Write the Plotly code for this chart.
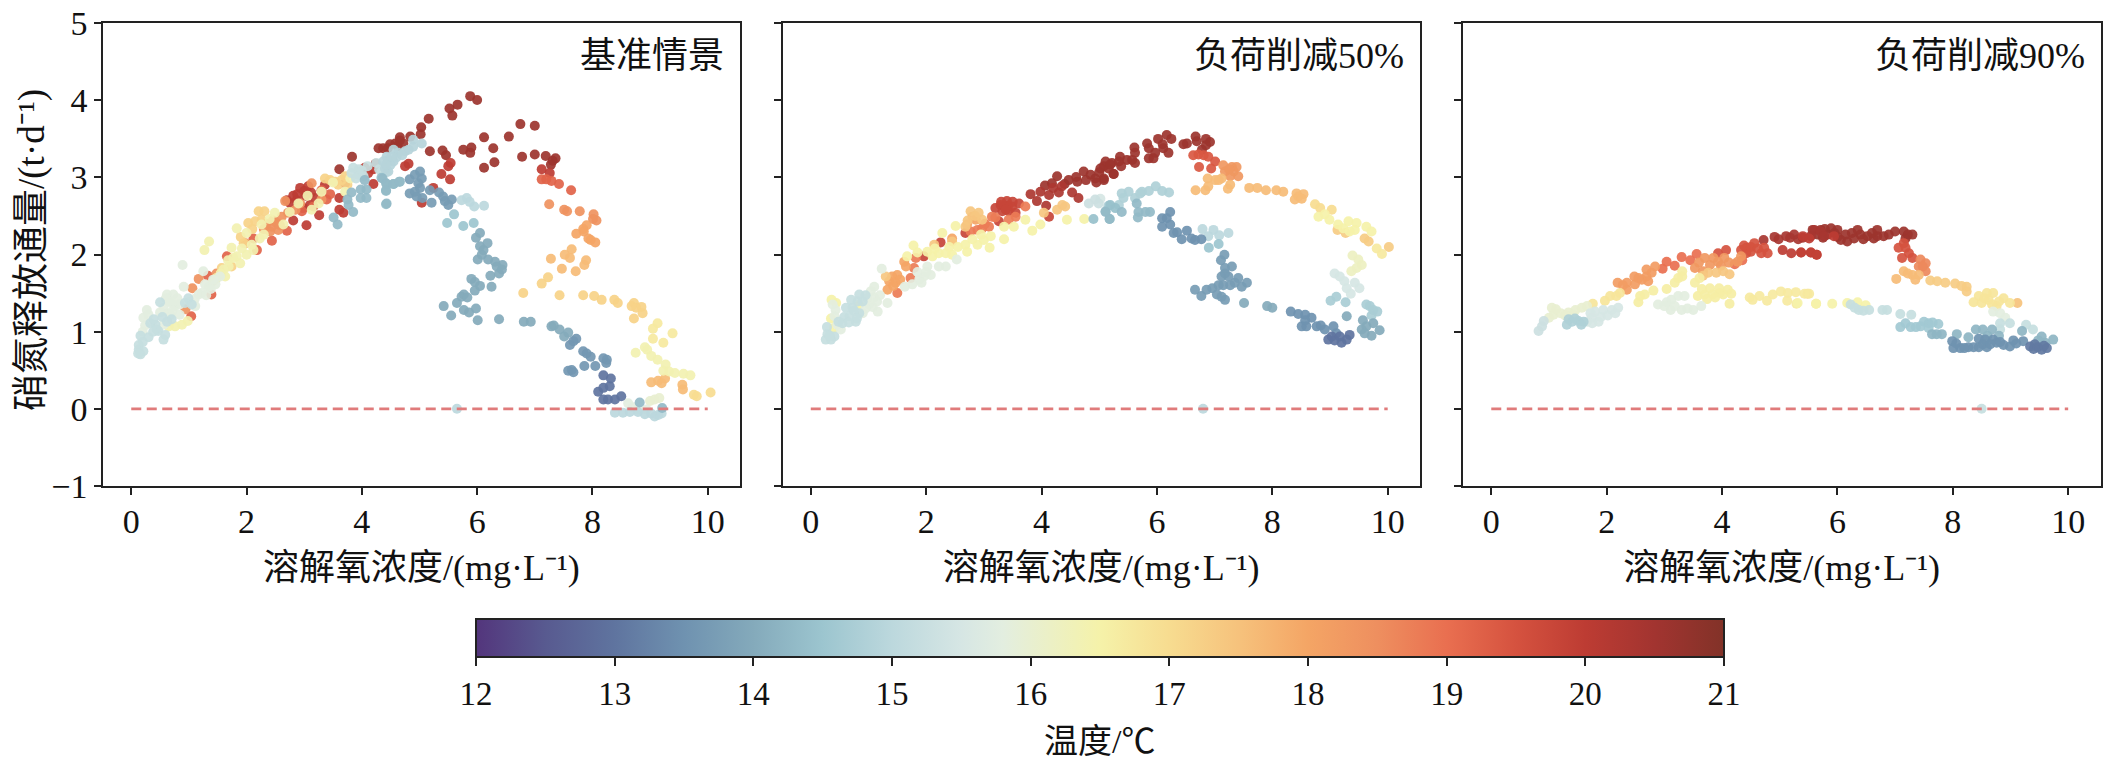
import plotly.graph_objects as go

W, H = 2106, 767
FONT = "Liberation Serif, Noto Sans CJK SC, serif"

# ---------- panel titles / axis text ----------
panel_titles = ["基准情景", "负荷削减50%", "负荷削减90%"]
x_title = "溶解氧浓度/(mg·L⁻¹)"
y_title = "硝氮释放通量/(t·d⁻¹)"
cbar_title = "温度/℃"
x_ticks = [0, 2, 4, 6, 8, 10]
y_ticks = [-1, 0, 1, 2, 3, 4, 5]
cbar_ticks = list(range(12, 22))
ref_x = [0, 10]
ref_y = [0, 0]

# values below were read with a small baseline error; this converts them to axis values
READ_GAIN, READ_OFFSET = 1.008, -0.04

# ---------- panel 1: (dissolved oxygen, flux) grouped by temperature ----------
p1_206 = [(5.88,4.06),(6.0,4.01),(5.66,3.95),(5.52,3.9),(5.57,3.81),(5.16,3.77),(5.03,3.66),(5.02,3.57),(4.84,3.54),(4.66,3.53),(4.58,3.45),(4.49,3.44),(4.37,3.39),(4.72,3.45),(6.12,3.53),(6.55,3.54),(6.75,3.7),(7.0,3.68),(6.28,3.39),(5.9,3.4),(5.88,3.33),(5.76,3.37),(5.4,3.36),(5.46,3.3),(5.18,3.35),(6.78,3.28),(7.0,3.31),(7.19,3.29),(7.36,3.26),(7.31,3.23),(7.28,3.18),(6.3,3.21),(6.12,3.14),(3.83,3.28),(3.61,3.12),(4.29,3.39),(4.45,3.39),(4.62,3.42),(4.66,3.49),(4.24,3.19)]
p1_200 = [(5.54,3.2),(5.5,3.16),(5.38,3.06),(5.53,2.99),(4.81,3.19),(4.75,3.16),(7.12,3.12),(7.26,3.07),(5.24,2.88),(5.04,2.69),(4.2,2.93),(3.61,2.75),(3.61,2.6),(3.68,2.56),(3.26,2.53),(3.04,2.4),(2.81,2.78),(2.93,2.88),(3.07,2.9),(3.19,2.75),(2.76,2.68),(2.81,2.46),(3.36,2.92),(3.71,2.94),(4.11,3.07),(3.0,2.84),(2.87,2.72),(3.1,2.66),(2.98,2.62),(3.02,2.78),(2.88,2.8),(3.12,2.82),(2.7,2.72),(4.05,3.14),(4.2,3.12)]
p1_192 = [(7.12,2.99),(7.2,2.99),(7.29,2.97),(7.42,2.93),(7.63,2.85),(2.7,2.33),(2.44,2.2),(2.18,2.08),(3.16,2.64),(2.96,2.58),(3.39,2.73),(2.12,2.23),(1.66,2.0),(1.39,1.51),(1.33,1.75),(1.04,1.23),(3.3,2.85),(3.45,2.8)]
p1_184 = [(7.25,2.67),(7.51,2.6),(7.56,2.58),(7.78,2.58),(8.02,2.54),(8.07,2.46),(8.01,2.48),(1.17,1.71),(0.94,1.32),(2.44,2.38),(2.61,2.51),(2.52,2.43),(2.41,2.32),(2.67,2.71),(2.55,2.34),(2.93,2.68),(3.3,2.73),(3.13,2.94),(1.98,2.17),(1.48,1.78),(1.06,1.59),(2.3,2.35),(2.35,2.42),(2.46,2.46),(2.58,2.4),(2.72,2.56),(2.85,2.6)]
p1_180 = [(7.9,2.4),(7.84,2.35),(7.72,2.29),(7.85,2.32),(7.93,2.23),(7.97,2.21),(8.05,2.18)]
p1_176 = [(7.64,2.09),(7.52,2.02),(7.61,1.98),(7.28,1.97),(7.89,1.95),(7.86,1.89),(7.47,1.84),(7.71,1.81),(9.02,0.38),(9.14,0.4),(9.2,0.37),(9.26,0.43),(9.56,0.35),(9.57,0.29)]
p1_172 = [(7.23,1.73),(7.12,1.65),(6.8,1.53),(7.43,1.5),(7.84,1.5),(8.03,1.49),(8.16,1.44),(8.38,1.44),(8.44,1.4),(8.68,1.36),(8.72,1.4),(8.76,1.34),(8.85,1.35),(8.87,1.27),(8.72,1.2),(2.21,2.58),(2.31,2.58),(2.03,2.43),(2.26,2.47),(3.54,2.96),(3.59,2.92),(3.71,3.03),(1.95,2.17),(1.57,1.85),(3.36,3.0),(1.74,1.87),(2.1,2.35),(2.15,2.45),(1.9,2.25),(3.45,2.98),(3.65,2.98),(3.75,2.92)]
p1_170 = [(9.76,0.22),(9.81,0.2),(10.05,0.25)]
p1_167 = [(9.13,1.14),(9.05,1.07),(9.39,1.01),(9.05,0.94),(9.23,0.89)]
p1_164 = [(8.75,0.76),(8.91,0.83),(8.95,0.8),(9.02,0.72),(9.13,0.67),(9.27,0.61),(9.23,0.53),(9.33,0.52),(9.43,0.5),(9.58,0.49),(9.7,0.47),(1.83,2.36),(1.35,2.19),(1.27,2.08),(2.49,2.56),(2.75,2.57),(2.9,2.68),(3.06,2.78),(3.13,2.6),(3.25,2.68),(3.3,2.83),(2.64,2.41),(2.26,2.41),(2.23,2.23),(2.09,2.15),(2.0,2.02),(2.0,2.3),(1.74,2.11),(1.83,2.0),(1.89,1.91),(1.77,1.98),(1.69,1.87),(1.6,1.83),(1.63,1.74),(3.71,2.83),(0.88,1.12),(0.76,1.1),(3.5,2.95),(3.8,3.0),(2.12,2.08),(2.3,2.28),(1.92,2.1),(1.55,1.78),(1.48,1.72),(1.42,1.68),(0.98,1.17),(0.65,1.1),(1.68,1.95),(2.4,2.48)]
p1_160 = [(9.0,0.14),(9.08,0.16),(9.16,0.18)]
p1_158 = [(8.62,0.11),(8.7,0.06),(8.79,0.03),(8.94,0.03),(0.89,1.89),(1.25,1.81),(0.91,1.61),(1.46,1.64),(1.34,1.61),(1.54,1.74),(1.22,1.53),(1.28,1.64),(1.17,1.51),(0.62,1.51),(0.73,1.51),(0.65,1.42),(0.76,1.36),(0.56,1.34),(0.65,1.27),(0.27,1.31),(0.21,1.21),(0.24,1.11),(0.56,1.12),(0.68,1.25),(1.11,1.36),(0.8,1.46),(0.84,1.38),(0.6,1.46),(0.7,1.4),(0.5,1.28),(0.72,1.3),(0.84,1.25),(1.02,1.42),(1.38,1.58),(1.1,1.45),(0.3,1.25),(0.2,1.03),(1.42,1.7),(1.3,1.5)]
p1_152 = [(0.99,1.46),(0.93,1.4),(0.5,1.41),(0.7,1.19),(0.33,1.14),(0.42,1.12),(0.39,1.19),(0.47,1.04),(0.59,0.99),(0.56,0.93),(0.16,0.98),(0.3,0.96),(0.13,0.86),(0.13,0.8),(0.21,0.78),(0.16,0.74),(0.12,0.75),(3.94,3.05),(3.82,3.07),(4.03,3.03),(3.85,3.14),(3.95,3.12),(4.1,3.16),(4.25,3.2),(4.3,3.12),(4.34,3.09),(4.43,3.08),(0.44,1.06),(0.38,1.03),(0.62,1.16),(0.54,1.22),(0.2,0.9),(1.05,1.38),(3.9,3.0),(4.0,3.1)]
p1_150 = [(8.39,-0.01),(8.53,-0.01),(8.65,0.0),(8.79,0.0),(8.91,-0.03),(9.08,-0.06),(9.2,-0.02),(9.14,-0.04),(9.02,-0.02),(6.12,2.65),(5.95,2.64),(5.87,2.7),(5.82,2.75),(5.73,2.72),(5.65,0.04)]
p1_149 = [(4.46,3.24),(4.55,3.22),(4.63,3.33),(4.75,3.35),(4.89,3.5),(5.04,3.45),(4.89,3.41),(4.81,3.37),(4.55,3.37),(4.43,3.28),(4.37,3.22),(4.46,3.09),(4.4,3.13),(4.5,3.18),(4.6,3.27),(4.7,3.3),(4.42,3.18),(4.52,3.28)]
p1_145 = [(5.94,2.43),(5.76,2.39),(5.48,2.43),(5.6,2.54)]
p1_144 = [(4.65,2.96),(4.55,2.93),(4.42,2.84),(4.42,2.94),(4.34,3.01),(4.42,2.67)]
p1_143 = [(3.82,2.82),(3.98,2.86),(4.08,2.86),(3.98,2.75),(4.08,2.75),(3.75,2.73),(3.77,2.66),(3.85,2.57),(3.51,2.5),(3.58,2.41),(4.05,2.98),(4.43,2.68),(4.36,3.0),(4.43,2.93),(4.42,2.85),(4.55,2.93),(4.66,2.96),(8.82,0.12),(9.21,0.05)]
p1_140 = [(7.29,1.1),(7.33,1.11),(7.43,1.06),(7.51,0.97),(7.58,1.02),(6.81,1.16),(6.93,1.16),(6.38,1.19),(6.01,1.18),(5.55,1.24),(5.42,1.36),(5.65,1.4),(5.73,1.48),(5.77,1.51),(5.83,1.47),(5.77,1.31),(5.86,1.28),(5.98,1.33),(5.96,1.56),(6.25,1.61),(6.05,1.62),(5.9,1.71),(5.96,1.67),(6.23,1.75),(6.38,1.78),(6.43,1.83),(6.44,1.89),(6.34,1.87),(6.31,1.93),(6.19,1.96),(6.01,1.96),(6.08,2.02),(6.11,2.08),(6.05,2.13),(6.18,2.17),(5.98,2.24),(6.05,2.3)]
p1_137 = [(5.56,2.73),(5.5,2.66),(5.44,2.71),(5.41,2.77),(5.34,2.82),(5.18,2.85),(5.21,2.69),(5.05,2.75),(4.95,2.77),(4.83,2.81),(4.92,2.83),(5.01,2.88),(4.98,2.94),(5.04,3.0),(4.83,2.99),(4.92,3.05),(5.01,3.09)]
p1_136 = [(7.64,0.54),(7.58,0.53),(7.67,0.51),(7.86,0.59),(8.05,0.59),(8.19,0.69),(8.24,0.63),(8.25,0.67),(7.84,0.78),(7.9,0.75),(7.97,0.71),(7.61,0.86),(7.67,0.91),(7.72,0.94)]
p1_130 = [(8.19,0.16),(8.27,0.16),(8.39,0.16),(8.5,0.2),(8.1,0.26),(8.19,0.31),(8.3,0.33),(8.32,0.43),(8.19,0.47)]
p1_bands = [(20.6,p1_206),(20.0,p1_200),(19.2,p1_192),(18.4,p1_184),(18.0,p1_180),(17.6,p1_176),(17.2,p1_172),(17.0,p1_170),(16.7,p1_167),(16.4,p1_164),(16.0,p1_160),(15.8,p1_158),(15.2,p1_152),(15.0,p1_150),(14.9,p1_149),(14.5,p1_145),(14.4,p1_144),(14.3,p1_143),(14.0,p1_140),(13.7,p1_137),(13.6,p1_136),(13.0,p1_130)]

# ---------- panel 2 ----------
p2_206 = [(6.17,3.56),(6.02,3.51),(6.25,3.51),(5.83,3.45),(5.86,3.39),(5.61,3.4),(6.1,3.44),(6.11,3.39),(6.2,3.33),(5.97,3.33),(5.86,3.26),(5.94,3.26),(6.46,3.44),(6.52,3.45),(6.67,3.54),(6.69,3.48),(6.85,3.51),(6.92,3.47),(6.85,3.43),(6.78,3.37),(5.62,3.33),(5.48,3.24),(5.36,3.28),(5.34,3.22),(5.22,3.2),(5.11,3.22),(5.08,3.16),(5.02,3.13),(5.16,3.13),(5.38,3.16),(5.25,3.06),(5.62,3.2),(5.08,3.0),(5.57,3.24),(5.19,3.18),(5.25,3.06),(5.08,2.98),(4.93,3.0),(4.73,3.09),(4.62,2.96),(4.47,2.98),(4.27,3.03),(4.18,2.94),(4.06,2.91),(4.85,3.05),(5.0,3.08),(4.6,3.02),(4.4,2.93),(4.95,2.95),(4.77,2.98)]
p2_203 = [(4.64,2.75),(4.53,2.82),(4.3,2.82),(4.13,2.79),(3.98,2.83),(3.81,2.8),(3.92,2.71),(4.08,2.65),(4.2,2.88),(4.35,2.9)]
p2_198 = [(3.4,2.71),(3.29,2.66),(3.49,2.64),(3.32,2.58),(3.43,2.58),(3.55,2.56),(3.2,2.62),(3.61,2.68),(4.13,2.51),(3.26,2.45),(2.25,2.18),(1.96,2.0),(2.68,2.3),(3.35,2.65),(3.42,2.65),(3.3,2.7),(3.5,2.7),(3.38,2.6)]
p2_194 = [(6.63,3.3),(6.72,3.31),(6.81,3.3),(6.89,3.28),(6.73,3.15),(6.94,3.13),(7.01,3.22)]
p2_188 = [(3.72,2.64),(3.55,2.51),(3.43,2.47),(3.14,2.51),(3.09,2.38),(2.97,2.36),(2.89,2.34),(2.77,2.32),(1.82,1.98),(1.79,1.85),(1.5,1.53),(1.73,1.72),(3.02,2.42),(3.2,2.5)]
p2_183 = [(7.15,3.17),(7.3,3.15),(7.38,3.15),(7.18,3.09),(7.33,3.09),(7.41,3.03),(7.27,3.03),(7.25,3.12)]
p2_180 = [(1.65,1.87),(1.62,1.93),(1.5,1.76),(1.41,1.74),(1.36,1.68),(1.47,1.66),(1.33,1.57),(2.45,2.23),(2.86,2.47),(2.71,2.41),(2.8,2.51),(1.55,1.7),(1.43,1.62)]
p2_176 = [(7.12,3.0),(7.01,2.98),(6.88,3.0),(7.27,2.92),(7.23,2.87),(6.89,2.9),(6.84,2.85),(6.67,2.85),(7.07,2.98),(7.6,2.88),(7.74,2.88),(7.89,2.85),(8.07,2.85),(8.19,2.83),(8.42,2.81),(8.54,2.8),(8.45,2.77),(8.39,2.73),(8.51,2.74)]
p2_174 = [(2.77,2.58),(2.91,2.56),(2.97,2.47),(2.68,2.38),(2.45,2.19),(1.3,1.74),(4.36,2.66),(4.27,2.6),(4.04,2.56),(4.41,2.64),(2.14,2.15),(2.72,2.46),(2.85,2.52)]
p2_173 = [(9.13,2.34),(9.27,2.3),(9.6,2.23),(9.67,2.19),(10.02,2.12)]
p2_170 = [(8.74,2.67),(8.83,2.62),(9.03,2.6)]
p2_167 = [(9.81,2.1),(9.9,2.03)]
p2_165 = [(8.8,2.51),(8.91,2.54),(8.99,2.47),(9.14,2.41),(9.23,2.36),(9.32,2.45),(9.46,2.43),(9.63,2.38),(9.72,2.32),(9.43,2.34),(9.34,2.32),(2.51,2.39),(2.28,2.3),(1.78,2.14),(1.67,2.0),(2.02,2.06),(2.11,2.0),(2.22,2.04),(2.34,2.04),(2.45,2.02),(2.68,2.15),(2.71,2.06),(2.89,2.15),(3.0,2.21),(3.12,2.26),(3.1,2.11),(3.35,2.22),(3.35,2.38),(3.52,2.38),(3.72,2.47),(3.84,2.33),(3.98,2.41),(4.44,2.47),(4.74,2.48),(0.84,1.37),(2.15,2.1),(2.4,2.12),(2.55,2.12),(2.8,2.22),(2.95,2.28),(1.85,2.05),(0.35,1.2),(0.44,1.4),(0.36,1.44),(0.4,1.08)]
p2_162 = [(9.39,2.01),(9.49,1.96),(9.55,1.89),(9.46,1.85),(9.37,1.81)]
p2_158 = [(2.53,1.96),(2.34,1.87),(2.22,1.87),(2.02,1.87),(2.08,1.76),(1.96,1.74),(1.88,1.7),(1.76,1.64),(1.63,1.61),(1.23,1.84),(1.33,1.4),(1.16,1.29),(1.1,1.61),(1.04,1.55),(0.98,1.46),(1.01,1.38),(0.9,1.27),(0.38,1.38),(0.43,1.31),(0.41,1.23),(0.46,1.12),(0.52,1.06),(1.85,1.8),(2.0,1.8),(1.92,1.66),(1.1,1.47),(1.07,1.35),(0.95,1.33),(1.15,1.42),(1.2,1.5)]
p2_155 = [(9.08,1.78),(9.17,1.74),(9.25,1.68),(9.43,1.66),(9.51,1.59),(9.29,1.59),(9.36,1.52),(5.02,2.74)]
p2_153 = [(4.82,2.68),(4.93,2.73),(4.99,2.68)]
p2_152 = [(0.84,1.51),(0.81,1.42),(0.84,1.27),(0.72,1.34),(0.61,1.34),(0.67,1.23),(0.55,1.14),(0.78,1.16),(0.28,1.09),(0.29,1.0),(0.26,0.93),(0.35,0.93),(0.41,0.97),(0.75,1.3),(0.7,1.44),(0.8,1.2),(0.58,1.22),(0.48,1.16),(0.66,1.15),(0.9,1.42),(0.95,1.5),(0.33,0.98)]
p2_150 = [(6.79,2.35),(6.98,2.34),(7.24,2.3),(7.08,2.27),(6.89,2.26),(6.8,0.04)]
p2_148 = [(6.21,2.82),(6.09,2.84),(5.98,2.9),(5.86,2.84),(5.74,2.83),(5.62,2.75),(5.71,2.81),(5.51,2.83),(5.39,2.81),(5.34,2.66),(5.16,2.65),(5.42,2.75)]
p2_147 = [(9.01,1.43),(9.11,1.48),(9.27,1.41),(9.63,1.38),(9.69,1.36),(9.82,1.29),(9.72,1.24),(9.75,1.31)]
p2_145 = [(6.9,2.11),(7.07,2.16)]
p2_144 = [(4.9,2.48),(5.18,2.48),(5.11,2.58),(5.19,2.66),(5.28,2.62)]
p2_143 = [(5.88,2.57),(5.8,2.57),(5.68,2.57),(5.67,2.5),(5.39,2.57),(5.18,2.48),(5.11,2.57),(5.65,2.68)]
p2_140 = [(9.29,1.23),(9.57,1.18),(9.75,1.14),(9.86,1.05),(9.55,1.06),(9.63,1.1),(9.72,0.98),(9.6,1.01),(7.51,1.4),(7.91,1.36),(8.0,1.34)]
p2_137 = [(6.66,1.57),(6.77,1.49),(6.86,1.57),(6.96,1.59),(7.04,1.51),(7.18,1.44),(7.12,1.48),(7.07,1.63),(7.15,1.63),(7.27,1.63),(7.41,1.72),(7.56,1.66),(7.47,1.61),(7.35,1.66),(7.18,1.78),(7.3,1.87),(7.12,1.74),(7.24,1.74),(7.18,1.85),(7.11,1.95),(7.17,2.02)]
p2_135 = [(8.32,1.29),(8.45,1.26),(8.57,1.25),(8.68,1.21),(8.51,1.1),(8.59,1.1),(8.57,1.18),(8.77,1.1),(8.84,1.11),(8.91,1.06),(9.06,1.1),(9.11,1.01),(6.77,2.22),(6.66,2.21),(6.6,2.23),(6.52,2.33),(6.43,2.22),(6.35,2.31),(6.29,2.3),(6.23,2.41),(6.09,2.38),(6.23,2.57),(6.17,2.49),(6.09,2.49)]
p2_130 = [(8.97,0.93),(9.08,0.92),(9.2,0.89),(9.29,0.93),(9.34,0.99),(9.03,0.97),(9.17,0.97)]
p2_bands = [(20.6,p2_206),(20.3,p2_203),(19.8,p2_198),(19.4,p2_194),(18.8,p2_188),(18.3,p2_183),(18.0,p2_180),(17.6,p2_176),(17.4,p2_174),(17.3,p2_173),(17.0,p2_170),(16.7,p2_167),(16.5,p2_165),(16.2,p2_162),(15.8,p2_158),(15.5,p2_155),(15.3,p2_153),(15.2,p2_152),(15.0,p2_150),(14.8,p2_148),(14.7,p2_147),(14.5,p2_145),(14.4,p2_144),(14.3,p2_143),(14.0,p2_140),(13.7,p2_137),(13.5,p2_135),(13.0,p2_130)]

# ---------- panel 3 ----------
p3_206 = [(5.57,2.34),(5.71,2.34),(5.89,2.36),(6.0,2.34),(5.66,2.28),(5.83,2.28),(6.06,2.21),(6.17,2.19),(6.14,2.28),(6.35,2.34),(6.4,2.28),(6.29,2.23),(6.52,2.26),(6.69,2.34),(6.69,2.26),(6.63,2.23),(6.89,2.28),(7.0,2.32),(7.15,2.32),(7.3,2.28),(7.18,2.23),(5.78,2.35),(5.95,2.3),(6.0,2.25),(5.75,2.24),(6.25,2.3),(6.45,2.22),(6.6,2.3),(6.8,2.26),(7.22,2.28)]
p3_204 = [(4.72,2.21),(4.91,2.25),(5.11,2.26),(5.25,2.28),(5.4,2.24),(5.6,2.34),(5.54,2.26),(5.71,2.32),(5.77,2.26),(4.98,2.22),(5.18,2.24),(5.32,2.22)]
p3_200 = [(5.05,2.08),(5.2,2.04),(5.37,2.05),(5.54,2.05),(5.64,2.02),(5.4,2.26),(5.51,2.23),(5.94,2.26)]
p3_199 = [(5.37,2.05),(5.54,2.05),(5.64,2.02)]
p3_195 = [(3.93,2.04),(4.07,2.08),(4.33,2.08),(4.42,2.11),(4.42,2.04),(4.56,2.17),(4.5,2.06),(4.79,2.04),(4.68,2.04),(4.73,2.11),(7.15,2.17),(7.06,2.11),(7.18,2.11),(7.24,2.04),(7.12,1.98),(7.3,1.98),(4.38,2.14),(4.5,2.12),(4.62,2.1)]
p3_190 = [(2.97,1.84),(3.04,1.93),(3.3,1.99),(3.56,2.03),(3.18,1.88),(3.45,1.95),(4.22,1.9),(4.35,1.95)]
p3_186 = [(7.44,1.96),(7.53,1.91),(7.41,1.87),(7.53,1.81),(7.48,1.87)]
p3_183 = [(3.53,1.85),(3.7,1.98),(3.79,1.89),(3.93,1.93),(4.04,1.98),(3.67,1.81),(4.27,1.93),(4.33,2.0),(3.85,1.98),(3.98,1.88),(4.12,1.92),(3.6,1.92)]
p3_182 = [(2.19,1.66),(2.35,1.66),(2.49,1.64),(2.61,1.7),(2.69,1.74),(2.78,1.79),(2.69,1.83),(2.84,1.87),(2.35,1.57),(2.48,1.74),(2.55,1.72),(2.72,1.68),(2.28,1.63)]
p3_176 = [(7.15,1.81),(7.3,1.76),(7.41,1.76),(7.35,1.7),(7.02,1.71),(7.22,1.78)]
p3_175 = [(9.12,1.4)]
p3_174 = [(3.76,1.79),(3.9,1.79),(4.02,1.81),(4.13,1.77),(3.67,1.75)]
p3_173 = [(7.61,1.69),(7.73,1.68),(7.87,1.66),(8.04,1.65),(8.24,1.61),(8.24,1.55),(8.15,1.62)]
p3_170 = [(5.48,1.52)]
p3_168 = [(1.76,1.39),(1.97,1.43),(2.06,1.49),(2.17,1.49),(2.23,1.53),(8.59,1.53),(8.7,1.53),(8.45,1.49),(8.36,1.41),(8.5,1.4),(8.62,1.44),(8.88,1.46),(8.99,1.4),(8.76,1.36),(8.55,1.46),(8.8,1.42),(8.68,1.38)]
p3_167 = [(4.48,1.47),(4.53,1.44),(4.65,1.49),(4.78,1.43),(4.88,1.51),(5.02,1.55),(5.14,1.53),(5.28,1.54),(5.43,1.52),(5.51,1.52),(5.13,1.43),(5.29,1.39),(5.63,1.39)]
p3_166 = [(2.55,1.41),(2.58,1.49),(2.66,1.51),(2.81,1.56),(3.53,1.66),(3.61,1.72),(3.18,1.66),(3.04,1.58),(3.24,1.72),(3.31,1.81),(3.31,1.74),(3.58,1.49),(3.7,1.51),(3.79,1.59),(3.84,1.51),(3.96,1.53),(4.1,1.57),(4.16,1.52),(4.13,1.39),(4.02,1.51),(3.65,1.58),(3.74,1.45),(3.88,1.47),(3.95,1.59)]
p3_165 = [(6.17,1.4),(6.35,1.41),(6.49,1.37),(5.91,1.39),(5.63,1.39),(5.31,1.4)]
p3_160 = [(1.05,1.34),(1.08,1.25),(1.2,1.27),(1.34,1.28),(1.46,1.31),(1.57,1.34),(1.66,1.36),(1.0,1.21),(1.12,1.32),(1.28,1.24),(1.42,1.25)]
p3_158 = [(2.89,1.38),(3.04,1.41),(3.12,1.44),(3.24,1.49),(3.35,1.49),(3.11,1.31),(3.3,1.31),(3.5,1.31),(3.64,1.36),(8.7,1.29),(8.82,1.27),(8.91,1.21),(3.0,1.36),(3.18,1.36),(3.4,1.33)]
p3_155 = [(1.74,1.21),(1.86,1.16),(1.8,1.29),(1.94,1.31),(2.09,1.31),(2.2,1.34),(1.66,1.16),(1.75,1.14),(1.9,1.22),(2.02,1.24),(2.15,1.27),(1.72,1.27)]
p3_153 = [(0.82,1.04),(0.88,1.1),(0.91,1.17)]
p3_152 = [(8.82,1.14),(8.99,1.14),(8.82,1.06),(9.27,1.12),(9.39,1.06),(6.86,1.31),(6.78,1.31),(7.09,1.26),(7.28,1.25),(6.37,1.31),(6.55,1.31),(6.23,1.38),(8.5,0.04),(6.3,1.34),(6.45,1.3)]
p3_148 = [(1.31,1.12),(1.4,1.16),(1.51,1.17),(1.6,1.16),(1.34,1.19),(1.45,1.2),(1.56,1.12)]
p3_146 = [(7.09,1.09),(7.27,1.09),(7.18,1.14),(7.5,1.16),(7.58,1.14),(7.75,1.13),(7.44,1.1),(7.58,1.08),(7.36,1.09),(7.65,1.15)]
p3_142 = [(7.64,1.0),(7.81,1.0),(8.07,1.0),(8.27,0.96),(8.4,1.06),(8.52,1.06),(8.68,1.06),(9.2,1.04),(9.54,0.97),(9.74,0.93),(9.6,0.89),(7.72,1.0),(8.6,0.98),(8.8,0.98),(9.48,0.92)]
p3_135 = [(7.99,0.91),(8.01,0.82),(8.13,0.82),(8.27,0.83),(8.45,0.83),(8.59,0.83),(8.45,0.94),(8.56,0.93),(8.7,0.93),(8.76,0.89),(8.88,0.86),(8.99,0.84),(9.05,0.92),(9.22,0.91),(8.06,0.88),(8.2,0.82),(8.36,0.83),(8.52,0.87),(8.65,0.87),(8.82,0.9),(9.1,0.88)]
p3_131 = [(9.4,0.81),(9.54,0.8),(9.63,0.82),(9.42,0.87),(9.34,0.84),(9.47,0.83),(9.58,0.85)]
p3_bands = [(20.6,p3_206),(20.4,p3_204),(20.0,p3_200),(19.9,p3_199),(19.5,p3_195),(19.0,p3_190),(18.6,p3_186),(18.3,p3_183),(18.2,p3_182),(17.6,p3_176),(17.5,p3_175),(17.4,p3_174),(17.3,p3_173),(17.0,p3_170),(16.8,p3_168),(16.7,p3_167),(16.6,p3_166),(16.5,p3_165),(16.0,p3_160),(15.8,p3_158),(15.5,p3_155),(15.3,p3_153),(15.2,p3_152),(14.8,p3_148),(14.6,p3_146),(14.2,p3_142),(13.5,p3_135),(13.1,p3_131)]

panels = [p1_bands, p2_bands, p3_bands]

# ---------- colour scale sampled from the bar (t -> colour) ----------
cmin, cmax = 12, 21
scale_t = [12, 12.5, 13, 13.5, 14, 14.5, 15, 15.5, 15.8, 16.5, 17, 17.5, 18, 18.5, 19, 19.5, 20, 20.5, 21]
scale_c = ["#53357c", "#585a90", "#5f749f", "#6f92b0", "#84aabb", "#9cc5cf", "#bcd8dd", "#d6e6e4", "#e3eee0",
           "#f5f2a9", "#f7dc90", "#f6c27c", "#f4a565", "#ee8f5f", "#e96f50", "#d5523f", "#bd3c33", "#a23430", "#823228"]
colorscale = [[(t - cmin) / (cmax - cmin), c] for t, c in zip(scale_t, scale_c)]

# ---------- layout in reference pixels ----------
panel_px = [(103, 740), (782.5, 1420), (1463, 2100.5)]
top_px, bottom_px = 23, 486
AXIS = "#222222"

fig = go.Figure()
for i, bands in enumerate(panels):
    n = "" if i == 0 else str(i + 1)
    xs, ys, ts = [], [], []
    for t, pts in sorted(bands, key=lambda b: -b[0]):
        for x, y in pts:
            xs.append(x); ys.append(round(y * READ_GAIN + READ_OFFSET, 3)); ts.append(t)
    fig.add_trace(go.Scatter(x=xs, y=ys, mode="markers", xaxis="x" + n, yaxis="y" + n, showlegend=False,
                             marker=dict(size=10, color=ts, coloraxis="coloraxis", opacity=0.92, line=dict(width=0))))
    fig.add_trace(go.Scatter(x=ref_x, y=ref_y, mode="lines", xaxis="x" + n, yaxis="y" + n, showlegend=False,
                             line=dict(color="#e07b7b", width=2.6, dash="10px,5.5px")))
    l, r = panel_px[i]
    common = dict(showline=True, mirror=True, linecolor=AXIS, linewidth=1.6, ticks="outside", ticklen=7,
                  tickwidth=1.6, tickcolor=AXIS, showgrid=False, zeroline=False,
                  tickfont=dict(family=FONT, size=34, color="#111"))
    fig.layout["xaxis" + n] = dict(common, domain=[l / W, r / W], range=[-0.49, 10.56], tickvals=x_ticks,
                                   anchor="y" + n, ticklabelstandoff=-3,
                                   title=dict(text=x_title, standoff=16, font=dict(family=FONT, size=36, color="#111")))
    fig.layout["yaxis" + n] = dict(common, domain=[1 - bottom_px / H, 1 - top_px / H], range=[-1, 5], tickvals=y_ticks,
                                   anchor="x" + n, showticklabels=(i == 0))
    fig.add_annotation(xref="paper", yref="paper", x=(r - 14) / W, y=1 - 56 / H, xanchor="right", yanchor="middle",
                       text=panel_titles[i], showarrow=False, font=dict(family=FONT, size=36, color="#111"))

fig.add_annotation(xref="paper", yref="paper", x=32 / W, y=1 - 250 / H, xanchor="center", yanchor="middle",
                   text=y_title, textangle=-90, showarrow=False, font=dict(family=FONT, size=37, color="#111"))
fig.add_annotation(xref="paper", yref="paper", x=1100 / W, y=1 - 741 / H, xanchor="center", yanchor="middle",
                   text=cbar_title, showarrow=False, font=dict(family=FONT, size=34, color="#111"))

fig.update_layout(
    width=W, height=H, margin=dict(l=0, r=0, t=0, b=0, autoexpand=False), paper_bgcolor="white", plot_bgcolor="white",
    coloraxis=dict(
        cmin=cmin, cmax=cmax, colorscale=colorscale,
        colorbar=dict(orientation="h", lenmode="pixels", len=1248, thicknessmode="pixels", thickness=38,
                      x=(476 + 1724) / 2 / W, xanchor="center", y=1 - 619 / H, yanchor="top", xpad=0, ypad=0,
                      outlinecolor=AXIS, outlinewidth=2, ticks="outside", ticklen=8, tickwidth=2, tickcolor=AXIS,
                      tickvals=cbar_ticks, tickfont=dict(family=FONT, size=33, color="#111"))))

fig.write_html("out.html", config={"displayModeBar": False}, post_script="document.body.style.margin='0';")
